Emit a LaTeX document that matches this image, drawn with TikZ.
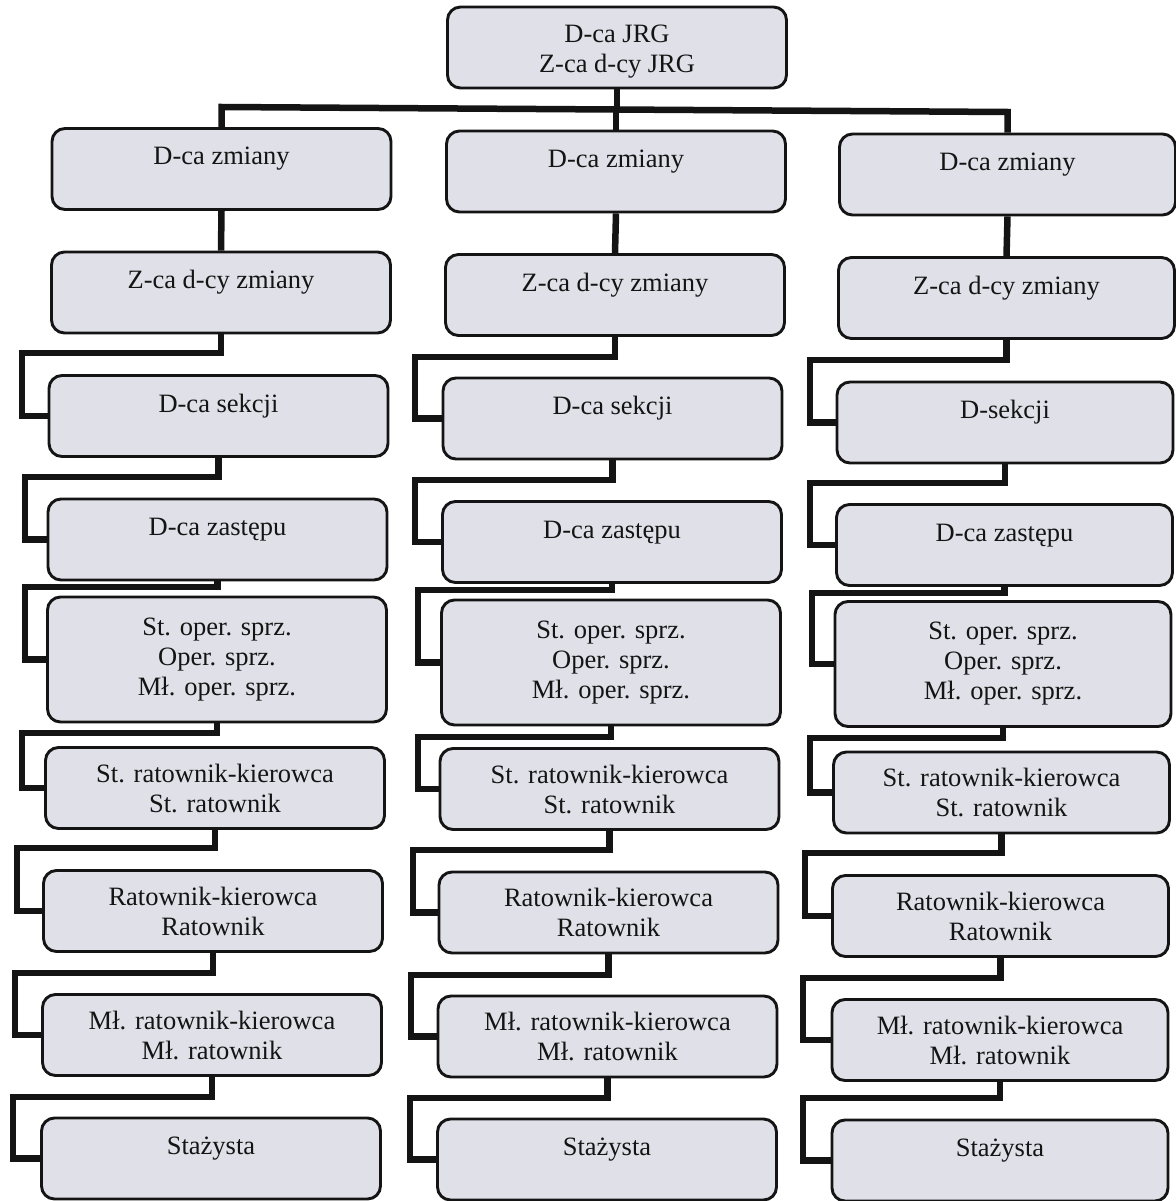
\documentclass[tikz,border=0pt]{standalone}
\usepackage{fontspec}
\setmainfont{Liberation Serif}
\usetikzlibrary{backgrounds}
\definecolor{boxfill}{HTML}{E0E1E8}
\definecolor{ink}{HTML}{141414}
\begin{document}
\begin{tikzpicture}[x=1pt,y=-1pt,
  box/.style={draw=ink, line width=2.9pt, fill=boxfill, rounded corners=13pt,
    minimum width=339pt, minimum height=81pt, inner sep=0pt,
    font=\fontsize{26.5}{30}\selectfont, text=ink},
  one/.style={text height=19pt, text depth=27pt},
  multi/.style={align=center},
  tall/.style={minimum height=125pt},
  nar/.style={minimum width=336pt},
  conn/.style={draw=ink, line width=6.5pt, line join=miter}
]
\useasboundingbox (0,0) rectangle (1175,1201);

% top
\node[box,multi] (top) at (617,47.5) {\rule{0pt}{26pt}D-ca JRG\\Z-ca d-cy JRG};

% column 1
\node[box,one] (c1r1) at (221.5,169) {D-ca zmiany};
\node[box,one] (c1r2) at (221,292.5) {Z-ca d-cy zmiany};
\node[box,one] (c1r3) at (218.5,416) {D-ca sekcji};
\node[box,one] (c1r4) at (217.5,539.5) {D-ca zastępu};
\node[box,multi,tall] (c1r5) at (217,659.5) {St. oper. sprz.\\Oper. sprz.\\Mł. oper. sprz.};
\node[box,multi] (c1r6) at (215,788) {St. ratownik-kierowca\\St. ratownik};
\node[box,multi] (c1r7) at (213,911) {Ratownik-kierowca\\Ratownik};
\node[box,multi] (c1r8) at (212,1035) {Mł. ratownik-kierowca\\Mł. ratownik};
\node[box,one] (c1r9) at (211,1158.5) {Stażysta};

% column 2
\node[box,one] (c2r1) at (616,171.5) {D-ca zmiany};
\node[box,one] (c2r2) at (615,295) {Z-ca d-cy zmiany};
\node[box,one] (c2r3) at (612.5,418.5) {D-ca sekcji};
\node[box,one] (c2r4) at (612,542) {D-ca zastępu};
\node[box,multi,tall] (c2r5) at (611,662.5) {St. oper. sprz.\\Oper. sprz.\\Mł. oper. sprz.};
\node[box,multi] (c2r6) at (609.5,789) {St. ratownik-kierowca\\St. ratownik};
\node[box,multi] (c2r7) at (608.5,912.5) {Ratownik-kierowca\\Ratownik};
\node[box,multi] (c2r8) at (607.5,1036.5) {Mł. ratownik-kierowca\\Mł. ratownik};
\node[box,one] (c2r9) at (607,1159.5) {Stażysta};

% column 3
\node[box,one,nar] (c3r1) at (1007.5,174.5) {D-ca zmiany};
\node[box,one,nar] (c3r2) at (1006.5,298) {Z-ca d-cy zmiany};
\node[box,one,nar] (c3r3) at (1005,422.5) {D-sekcji};
\node[box,one,nar] (c3r4) at (1004.5,545) {D-ca zastępu};
\node[box,multi,tall,nar] (c3r5) at (1003,664) {St. oper. sprz.\\Oper. sprz.\\Mł. oper. sprz.};
\node[box,multi,nar] (c3r6) at (1001.5,792.5) {St. ratownik-kierowca\\St. ratownik};
\node[box,multi,nar] (c3r7) at (1000.5,916) {Ratownik-kierowca\\Ratownik};
\node[box,multi,nar] (c3r8) at (1000,1040) {Mł. ratownik-kierowca\\Mł. ratownik};
\node[box,one,nar] (c3r9) at (1000,1160.5) {Stażysta};

\begin{pgfonlayer}{background}
  \fill[white] (0,0) rectangle (1175,1201);
  \coordinate (barL) at (221,107);
  \coordinate (barR) at (1009,112);
  \draw[conn] (c1r1.north) -- (c1r1.north |- barL) -- (c3r1.north |- barR) -- (c3r1.north);
  \draw[conn] (top.south) -- (top.south |- 0,109);
  \draw[conn] (c2r1.north) -- (c2r1.north |- 0,109);
  % column 1
  \draw[conn] (c1r1.south) -- (c1r2.north);
  \draw[conn] (c1r2.south) |- (22,353) |- (c1r3.west);
  \draw[conn] (c1r3.south) |- (25,477) |- (c1r4.west);
  \draw[conn] (c1r4.south) |- (25,587) |- (c1r5.west);
  \draw[conn] (c1r5.south) |- (22,733) |- (c1r6.west);
  \draw[conn] (c1r6.south) |- (17,848) |- (c1r7.west);
  \draw[conn] (c1r7.south) |- (15,973) |- (c1r8.west);
  \draw[conn] (c1r8.south) |- (13,1097) |- (c1r9.west);
  % column 2
  \draw[conn] (c2r1.south) -- (c2r2.north);
  \draw[conn] (c2r2.south) |- (415,357) |- (c2r3.west);
  \draw[conn] (c2r3.south) |- (415,480) |- (c2r4.west);
  \draw[conn] (c2r4.south) |- (418,590) |- (c2r5.west);
  \draw[conn] (c2r5.south) |- (418,737) |- (c2r6.west);
  \draw[conn] (c2r6.south) |- (413,850) |- (c2r7.west);
  \draw[conn] (c2r7.south) |- (411,975) |- (c2r8.west);
  \draw[conn] (c2r8.south) |- (410,1098) |- (c2r9.west);
  % column 3
  \draw[conn] (c3r1.south) -- (c3r2.north);
  \draw[conn] (c3r2.south) |- (810,360) |- (c3r3.west);
  \draw[conn] (c3r3.south) |- (810,483) |- (c3r4.west);
  \draw[conn] (c3r4.south) |- (812,593) |- (c3r5.west);
  \draw[conn] (c3r5.south) |- (810,738) |- (c3r6.west);
  \draw[conn] (c3r6.south) |- (805,853) |- (c3r7.west);
  \draw[conn] (c3r7.south) |- (803,978) |- (c3r8.west);
  \draw[conn] (c3r8.south) |- (803,1098) |- (c3r9.west);
\end{pgfonlayer}
\end{tikzpicture}
\end{document}
